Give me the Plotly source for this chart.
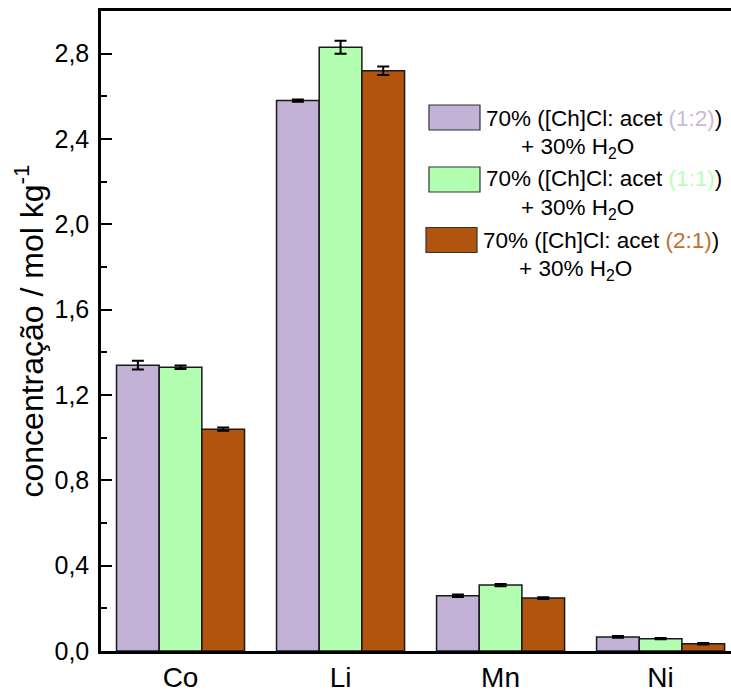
import plotly.graph_objects as go

# Metal concentrations (mol/kg) leached with each deep eutectic solvent mixture
metals = ["Co", "Li", "Mn", "Ni"]
series_names = ["1:2", "1:1", "2:1"]
conc_1_2 = [1.34, 2.58, 0.259, 0.066]
conc_1_1 = [1.33, 2.83, 0.309, 0.058]
conc_2_1 = [1.04, 2.72, 0.248, 0.034]
err_1_2 = [0.020, 0.005, 0.006, 0.004]
err_1_1 = [0.008, 0.030, 0.005, 0.003]
err_2_1 = [0.008, 0.020, 0.004, 0.003]
y_ticks = [0.0, 0.4, 0.8, 1.2, 1.6, 2.0, 2.4, 2.8]

fill_colors = ["#C3B2D6", "#B2FFB2", "#B0540E"]
ratio_text_colors = ["#C9B9DC", "#B9FFB9", "#C0702E"]

values = [conc_1_2, conc_1_1, conc_2_1]
errors = [err_1_2, err_1_1, err_2_1]

FONT = "Liberation Sans, Arial, sans-serif"

fig = go.Figure()
for name, vals, errs, col in zip(series_names, values, errors, fill_colors):
    fig.add_trace(go.Bar(
        x=metals, y=vals, name=name,
        marker=dict(color=col, line=dict(color="#1a1a1a", width=1.5)),
        error_y=dict(type="data", array=errs, visible=True,
                     color="black", thickness=2, width=6),
        showlegend=False,
    ))

# Plot area geometry in pixels (used to place the legend block)
W, H = 731, 693
L, R, T, B = 101, 0, 11, 42
pw, ph = W - L - R, H - T - B


def px(xp):
    return (xp - L) / pw


def py(yp):
    return (H - B - yp) / ph


# Legend drawn as swatches + two-line labels
legend_rows = [
    dict(sx0=429, sx1=480, sy=117.5, tx=484, ty1=118, tx2=519, ty2=148),
    dict(sx0=429, sx1=480, sy=179.5, tx=484, ty1=179, tx2=519, ty2=209),
    dict(sx0=426, sx1=477, sy=240.0, tx=481, ty1=240, tx2=517, ty2=270),
]
for row, name, col, tcol in zip(legend_rows, series_names, fill_colors, ratio_text_colors):
    fig.add_shape(type="rect", xref="paper", yref="paper",
                  x0=px(row["sx0"]), x1=px(row["sx1"]),
                  y0=py(row["sy"] + 12.5), y1=py(row["sy"] - 12.5),
                  fillcolor=col, line=dict(color="#333333", width=1.2))
    fig.add_annotation(xref="paper", yref="paper", x=px(row["tx"]), y=py(row["ty1"]),
                       xanchor="left", yanchor="middle", showarrow=False,
                       text=f"70% ([Ch]Cl: acet <span style='color:{tcol}'>({name})</span>)",
                       font=dict(size=22.5, color="black", family=FONT))
    fig.add_annotation(xref="paper", yref="paper", x=px(row["tx2"]), y=py(row["ty2"]),
                       xanchor="left", yanchor="middle", showarrow=False,
                       text="+ 30% H<sub>2</sub>O",
                       font=dict(size=22.5, color="black", family=FONT))

fig.update_layout(
    width=W, height=H,
    margin=dict(l=L, r=R, t=T, b=B, pad=0),
    paper_bgcolor="white", plot_bgcolor="white",
    barmode="group", bargap=0.2, bargroupgap=0.0,
    separators=", ",
    font=dict(family=FONT, color="black"),
)
fig.update_xaxes(
    range=[-0.497, 3.44],
    showline=True, linecolor="black", linewidth=2.5, mirror=True,
    ticks="", showgrid=False, zeroline=False,
    tickfont=dict(size=28, family=FONT, color="black"),
    ticklabelstandoff=0,
    automargin=False,
)
fig.update_yaxes(
    range=[0, 3.0],
    tickvals=y_ticks, tickformat=".1f",
    showline=True, linecolor="black", linewidth=2.5, mirror=False,
    ticks="inside", ticklen=11, tickwidth=2, tickcolor="black",
    minor=dict(ticks="inside", dtick=0.2, tick0=0, ticklen=6, tickwidth=2, tickcolor="black"),
    showgrid=False, zeroline=False,
    tickfont=dict(size=25, family=FONT, color="black"),
    ticklabelstandoff=4,
    title=dict(text="concentração / mol kg<sup>-1</sup>",
               font=dict(size=32, family=FONT, color="black"), standoff=2),
    automargin=False,
)

fig.write_html("out.html")
